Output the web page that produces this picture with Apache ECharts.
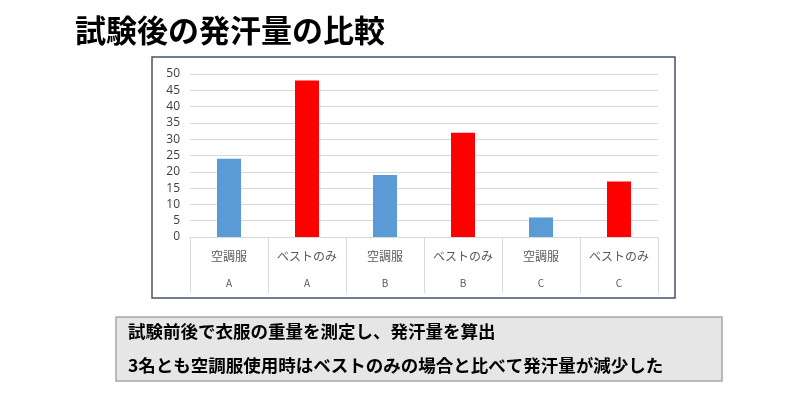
<!DOCTYPE html>
<html>
<head>
<meta charset="utf-8">
<script src="https://cdn.jsdelivr.net/npm/echarts@6/dist/echarts.min.js"></script>
<style>
  html, body { margin: 0; padding: 0; background: #ffffff; }
  #main { width: 800px; height: 400px; }
</style>
</head>
<body>
<div id="main"></div>
<script>
// データ
const types = ['空調服', 'ベストのみ', '空調服', 'ベストのみ', '空調服', 'ベストのみ'];
const subjects = ['A', 'A', 'B', 'B', 'C', 'C'];
const sweat = [24, 48, 19, 32, 6, 17];
const yTicks = [0, 5, 10, 15, 20, 25, 30, 35, 40, 45, 50];
const titleText = '試験後の発汗量の比較';
const notes = [
    '試験前後で衣服の重量を測定し、発汗量を算出',
    '3名とも空調服使用時はベストのみの場合と比べて発汗量が減少した'
];

const barColors = ['#5b9bd5', '#ff0000'];
const jpFont = '"Noto Sans CJK JP", "Noto Sans", sans-serif';

const chart = echarts.init(document.getElementById('main'));

const option = {
    backgroundColor: '#ffffff',
    animation: false,
    textStyle: { fontFamily: jpFont },
    grid: {
        left: 190,
        right: 142,
        top: 74,
        bottom: 163
    },
    xAxis: {
        type: 'category',
        data: types,
        axisLine: { lineStyle: { color: '#d9d9d9', width: 1 } },
        axisTick: {
            show: true,
            alignWithLabel: false,
            length: 56,
            lineStyle: { color: '#d9d9d9', width: 1 }
        },
        axisLabel: {
            margin: 5,
            interval: 0,
            formatter: function (value, index) {
                return '{t|' + value + '}\n{g|' + subjects[index] + '}';
            },
            rich: {
                t: { fontSize: 12, color: '#595959', lineHeight: 28, fontFamily: jpFont },
                g: { fontSize: 10, color: '#595959', lineHeight: 26, fontFamily: jpFont }
            }
        }
    },
    yAxis: {
        type: 'value',
        min: yTicks[0],
        max: yTicks[yTicks.length - 1],
        interval: yTicks[1] - yTicks[0],
        axisLine: { show: false },
        axisTick: { show: false },
        axisLabel: { color: '#404040', fontSize: 12, margin: 10, fontFamily: '"Open Sans", "Noto Sans", sans-serif' },
        splitLine: { lineStyle: { color: '#d9d9d9', width: 1 } }
    },
    series: [{
        type: 'bar',
        data: sweat,
        barWidth: 24,
        itemStyle: {
            color: function (p) { return barColors[p.dataIndex % 2]; }
        }
    }],
    graphic: [
        {
            type: 'text',
            left: 75,
            top: 15,
            style: {
                text: titleText,
                font: 'bold 31px ' + jpFont,
                fill: '#000000'
            }
        },
        {
            type: 'rect',
            shape: { x: 152, y: 57, width: 523, height: 241 },
            style: { fill: 'none', stroke: '#44546a', lineWidth: 1.5 },
            z: -1
        },
        {
            type: 'rect',
            shape: { x: 116, y: 317, width: 606, height: 64 },
            style: { fill: '#e7e6e6', stroke: '#a6a6a6', lineWidth: 1.5 },
            z: -1
        },
        {
            type: 'text',
            left: 128,
            top: 323,
            style: { text: notes[0], font: 'bold 17.5px ' + jpFont, fill: '#000000' }
        },
        {
            type: 'text',
            left: 128,
            top: 357,
            style: { text: notes[1], font: 'bold 17.5px ' + jpFont, fill: '#000000' }
        }
    ]
};

chart.setOption(option);
</script>
</body>
</html>
